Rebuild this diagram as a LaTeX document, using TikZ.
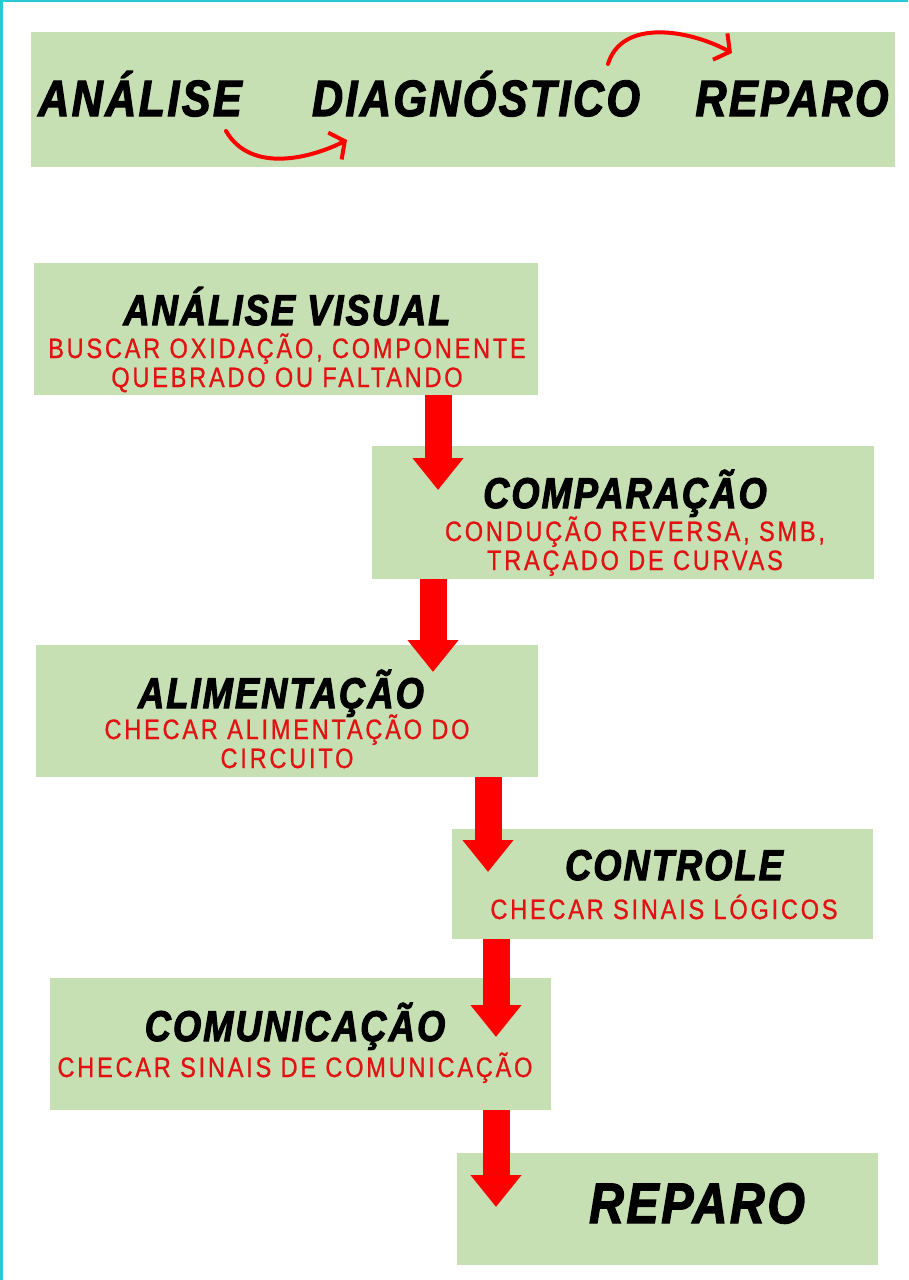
\documentclass[tikz,border=0pt]{standalone}
\usepackage{fontspec}
\usepackage{xcolor}
\usepackage{tikz}
\usetikzlibrary{arrows.meta, positioning, calc}

\newfontfamily\headfont[FakeStretch=0.84,FakeBold=2.5,LetterSpace=5]{Liberation Sans}
\newfontfamily\subfont[FakeStretch=0.84,FakeBold=0.8,LetterSpace=10]{Liberation Sans}

\definecolor{boxgreen}{RGB}{198,224,180}
\definecolor{txtred}{RGB}{226,18,18}
\definecolor{arrred}{RGB}{255,0,0}
\definecolor{edgecyan}{RGB}{40,200,215}

\begin{document}
\begin{tikzpicture}[x=1pt, y=-1pt]
        \tikzstyle{box} = [rectangle, fill=boxgreen, inner sep=0pt]
        \tikzstyle{head} = [anchor=base, inner sep=0pt, font=\headfont\bfseries\itshape\fontsize{43}{45}\selectfont]
        \tikzstyle{bighead} = [anchor=base, inner sep=0pt, font=\headfont\bfseries\itshape\fontsize{51}{54}\selectfont]
        \tikzstyle{sub} = [anchor=base, inner sep=0pt, align=center, text=txtred, font=\subfont\fontsize{28}{29}\selectfont]
        \tikzstyle{blockarrow} = [draw=arrred, line width=27pt, -{Triangle[width=49pt,length=32pt]}]
        \tikzstyle{curlarrow} = [draw=arrred, line width=4pt, line cap=round, -{Straight Barb[length=11pt,width=30pt]}]

        % Page and frame
        \useasboundingbox (0,0) rectangle (908,1280);
        \fill[white] (0,0) rectangle (908,1280);
        \fill[edgecyan] (0,0) rectangle (3,1280);
        \fill[edgecyan] (0,0) rectangle (908,2);

        % Banner
        \node (banner) [box, minimum width=864pt, minimum height=135pt] at (463,99.5) {};
        \node (ana) [bighead] at (140,116) {ANÁLISE};
        \node (diag) [bighead] at (476,116) {DIAGNÓSTICO};
        \node (rep0) [bighead] at (792,116) {REPARO};
        \coordinate (la) at (226,131);
        \coordinate (lb) at (347,140);
        \coordinate (ua) at (608,64);
        \coordinate (ub) at (732,53);
        \draw [curlarrow] (la) .. controls (251,174) and (311,158) .. (lb);
        \draw [curlarrow] (ua) .. controls (622,18) and (690,30) .. (ub);

        % Steps
        \node (vis) [box, minimum width=504pt, minimum height=132pt] at (286,329) {};
        \node (visT) [head] at (287,325) {ANÁLISE VISUAL};
        \node (visS) [sub] at (287,387) {BUSCAR OXIDAÇÃO, COMPONENTE\\QUEBRADO OU FALTANDO};

        \node (comp) [box, minimum width=502pt, minimum height=133pt] at (623,512.5) {};
        \node (compT) [head] at (625,508) {COMPARAÇÃO};
        \node (compS) [sub] at (635,570) {CONDUÇÃO REVERSA, SMB,\\TRAÇADO DE CURVAS};

        \node (alim) [box, minimum width=502pt, minimum height=132pt] at (287,711) {};
        \node (alimT) [head] at (281,708) {ALIMENTAÇÃO};
        \node (alimS) [sub] at (287,768) {CHECAR ALIMENTAÇÃO DO\\CIRCUITO};

        \node (ctrl) [box, minimum width=421pt, minimum height=110pt] at (662.5,884) {};
        \node (ctrlT) [head] at (674,880) {CONTROLE};
        \node (ctrlS) [sub] at (664,919) {CHECAR SINAIS LÓGICOS};

        \node (comm) [box, minimum width=501pt, minimum height=132pt] at (300.5,1044) {};
        \node (commT) [head] at (295,1041) {COMUNICAÇÃO};
        \node (commS) [sub] at (295,1077) {CHECAR SINAIS DE COMUNICAÇÃO};

        \node (rep) [box, minimum width=421pt, minimum height=112pt] at (667.5,1209) {};
        \node (repT) [bighead, font=\headfont\bfseries\itshape\fontsize{57}{60}\selectfont] at (697,1223) {REPARO};

        % Arrow tips
        \coordinate (t1) at (438,490);
        \coordinate (t2) at (433,672);
        \coordinate (t3) at (488,872);
        \coordinate (t4) at (496,1037);
        \coordinate (t5) at (496,1207);

        % Arrows
        \draw [blockarrow] (vis.south -| t1) -- (t1);
        \draw [blockarrow] (comp.south -| t2) -- (t2);
        \draw [blockarrow] (alim.south -| t3) -- (t3);
        \draw [blockarrow] (ctrl.south -| t4) -- (t4);
        \draw [blockarrow] (comm.south -| t5) -- (t5);
\end{tikzpicture}
\end{document}
